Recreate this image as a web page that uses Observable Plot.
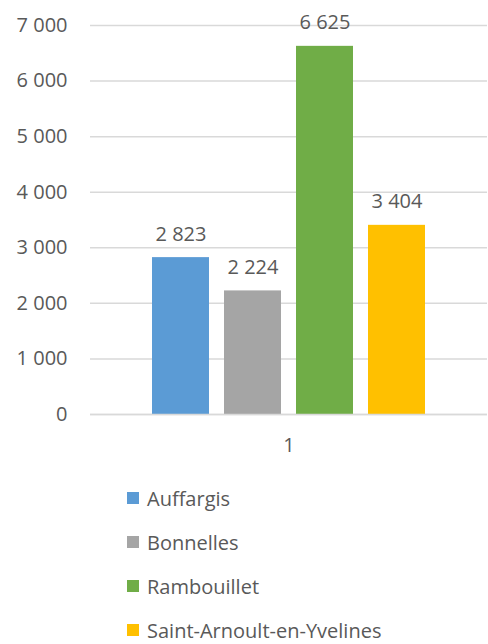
<!DOCTYPE html>
<html>
<head>
<meta charset="utf-8">
<script src="https://cdn.jsdelivr.net/npm/d3@7"></script>
<script src="https://cdn.jsdelivr.net/npm/@observablehq/plot@0.6"></script>
<style>
  html, body { margin: 0; padding: 0; background: #fff; }
  #chart { width: 488px; }
  .legend { font-family: "Open Sans", sans-serif; font-size: 20px; color: #595959; padding-top: 6px; }
  .legend .row { height: 44px; display: flex; align-items: center; padding-left: 127px; }
  .legend .sw { width: 12px; height: 12px; margin-right: 8px; flex: none; }
</style>
</head>
<body>
<div id="chart"></div>
<script>
const cities = ["Auffargis", "Bonnelles", "Rambouillet", "Saint-Arnoult-en-Yvelines"];
const values = [2823, 2224, 6625, 3404];
const groups = ["1", "1", "1", "1"];
const colors = ["#5B9BD5", "#A5A5A5", "#70AD47", "#FFC000"];
const yTicks = [0, 1000, 2000, 3000, 4000, 5000, 6000, 7000];

const data = cities.map((c, i) => ({city: c, value: values[i], group: groups[i]}));
const fmt = d => d3.format(",")(d).replace(/,/g, " ");

const chart = Plot.plot({
  width: 488,
  height: 470,
  marginTop: 25,
  marginBottom: 56,
  marginLeft: 90,
  marginRight: 1,
  style: {fontFamily: "Open Sans, sans-serif", fontSize: "20px", color: "#595959", background: "#fff"},
  fx: {domain: ["1"], paddingInner: 0, paddingOuter: 0, label: null},
  x: {domain: cities, paddingInner: 0.2083, paddingOuter: 0.861, axis: null},
  y: {domain: [0, 7000], label: null},
  color: {domain: cities, range: colors},
  marks: [
    Plot.gridY(yTicks, {stroke: "#d9d9d9", strokeOpacity: 1, strokeWidth: 1.5}),
    Plot.axisY(yTicks, {tickSize: 0, tickPadding: 23, tickFormat: fmt, label: null, fill: "#595959"}),
    Plot.axisFx({anchor: "bottom", tickSize: 0, tickPadding: 23, label: null, fill: "#595959"}),
    Plot.barY(data, {fx: "group", x: "city", y: "value", fill: "city"}),
    Plot.ruleY([0], {stroke: "#d9d9d9", strokeWidth: 1.5}),
    Plot.text(data, {fx: "group", x: "city", y: "value", text: d => fmt(d.value), lineAnchor: "bottom", dy: -17, fill: "#595959"})
  ]
});
document.getElementById("chart").append(chart);

const cs = chart.scale("color");
const legend = document.createElement("div");
legend.className = "legend";
cs.domain.forEach((name, i) => {
  const row = document.createElement("div");
  row.className = "row";
  const sw = document.createElement("span");
  sw.className = "sw";
  sw.style.background = cs.range[i];
  const t = document.createElement("span");
  t.textContent = name;
  row.append(sw, t);
  legend.append(row);
});
document.getElementById("chart").append(legend);
</script>
</body>
</html>
